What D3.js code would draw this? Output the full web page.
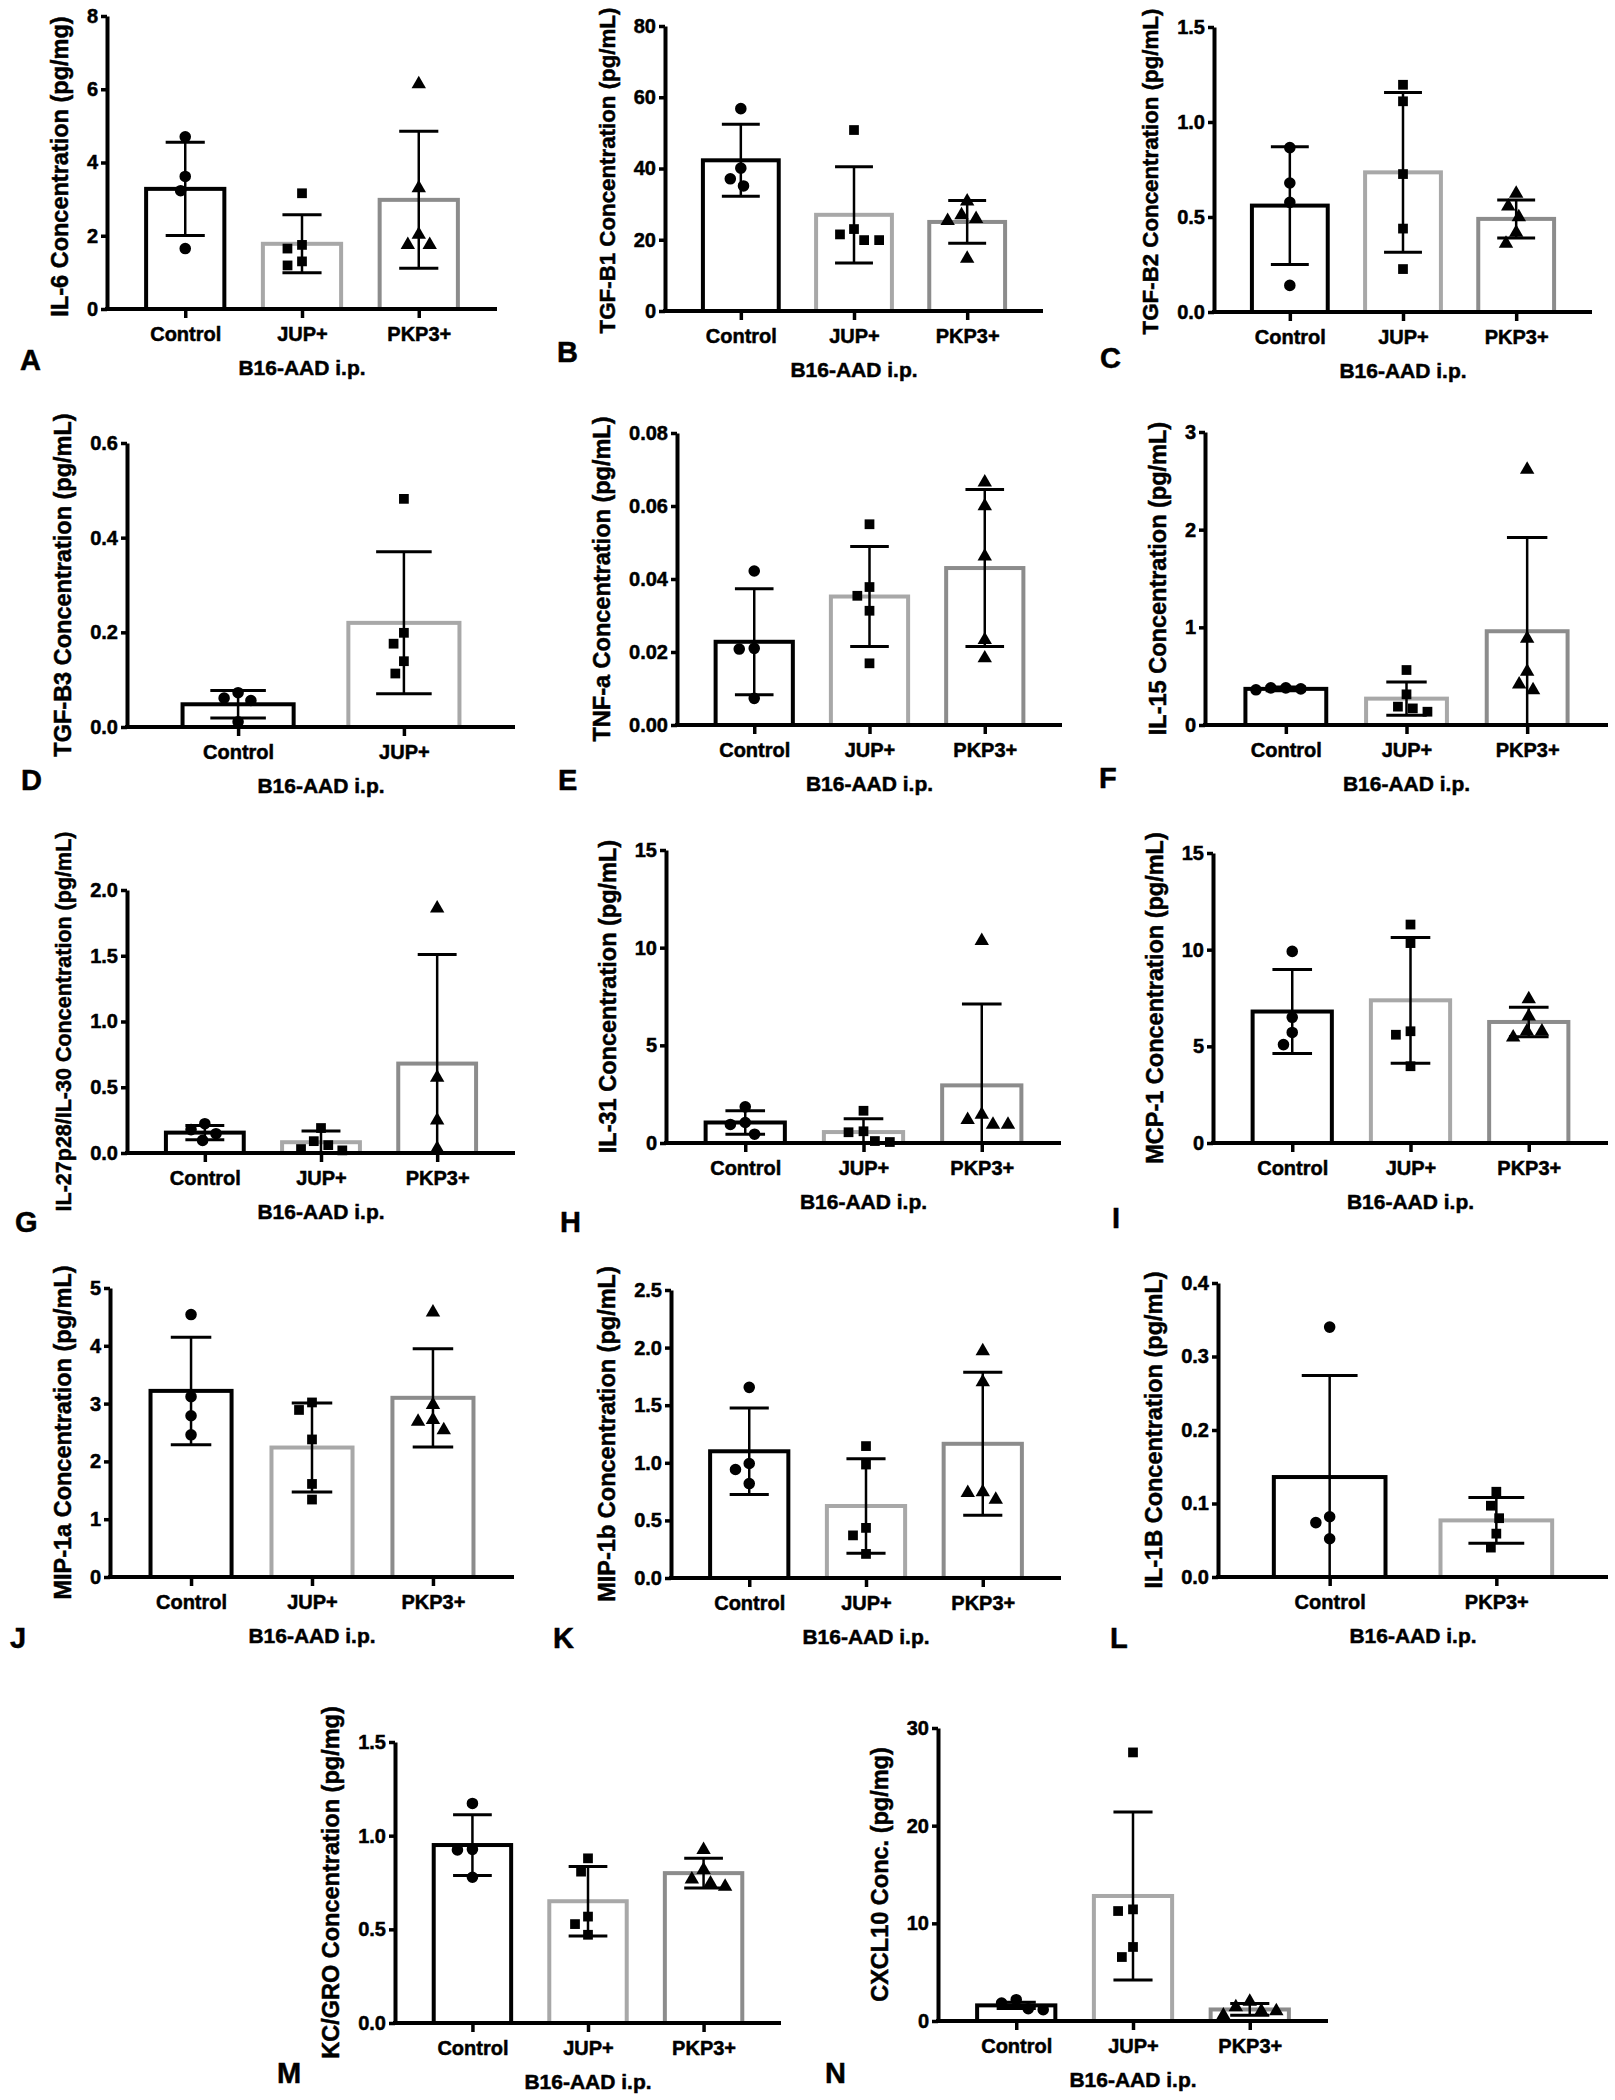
<!DOCTYPE html>
<html>
<head>
<meta charset="utf-8">
<script src="https://cdn.jsdelivr.net/npm/d3@7"></script>
<style>
  body { margin: 0; background: #ffffff; }
  svg text { font-family: "Liberation Sans", Arial, sans-serif; font-weight: bold; fill: #000; stroke: #000; stroke-width: 0.5px; }
  .domain { stroke: #000; stroke-width: 4px; }
  .tick line { stroke: #000; stroke-width: 3.5px; }
</style>
</head>
<body>
<div id="chart"></div>
<script>
const width = 1615;
const height = 2100;

// groups
const groups3 = ["Control", "JUP+", "PKP3+"];
const groupsD = ["Control", "JUP+"];
const groupsL = ["Control", "PKP3+"];

// A - IL-6
const il6Mean = [3.28, 1.78, 2.98];
const il6Sd = [1.27, 0.79, 1.87];
const il6Pts = [[4.70, 3.62, 3.23, 1.65], [3.16, 1.65, 1.75, 1.19, 1.30], [6.14, 3.30, 2.03, 1.75, 1.75]];
const il6Ticks = [0, 2, 4, 6, 8];

// B - TGF-B1
const tgfb1Mean = [42.3, 27.0, 25.0];
const tgfb1Sd = [10.1, 13.5, 6.0];
const tgfb1Pts = [[56.8, 40.1, 37.1, 35.1], [50.8, 21.5, 19.9, 19.9, 23.0], [30.8, 25.9, 26.9, 25.3, 14.7]];
const tgfb1Ticks = [0, 20, 40, 60, 80];

// C - TGF-B2
const tgfb2Mean = [0.56, 0.735, 0.49];
const tgfb2Sd = [0.31, 0.42, 0.10];
const tgfb2Pts = [[0.865, 0.679, 0.577, 0.14], [1.196, 1.109, 0.726, 0.439, 0.226], [0.623, 0.556, 0.50, 0.418, 0.36]];
const tgfb2Ticks = [0, 0.5, 1.0, 1.5];

// D - TGF-B3
const tgfb3Mean = [0.048, 0.22];
const tgfb3Sd = [0.029, 0.15];
const tgfb3Pts = [[0.0725, 0.061, 0.056, 0.011], [0.482, 0.199, 0.176, 0.139, 0.113]];
const tgfb3Ticks = [0, 0.2, 0.4, 0.6];

// E - TNF-a
const tnfMean = [0.0228, 0.0352, 0.043];
const tnfSd = [0.0145, 0.0137, 0.0215];
const tnfPts = [[0.0422, 0.021, 0.0208, 0.0073], [0.055, 0.0378, 0.0354, 0.0313, 0.0169], [0.0665, 0.060, 0.0462, 0.0233, 0.0183]];
const tnfTicks = [0, 0.02, 0.04, 0.06, 0.08];

// F - IL-15
const il15Mean = [0.37, 0.27, 0.96];
const il15Sd = [0.02, 0.17, 0.96];
const il15Pts = [[0.38, 0.37, 0.36, 0.38], [0.563, 0.314, 0.188, 0.136, 0.17], [2.615, 0.886, 0.546, 0.416, 0.358]];
const il15Ticks = [0, 1, 2, 3];

// G - IL-27p28/IL-30
const il27Mean = [0.155, 0.082, 0.68];
const il27Sd = [0.055, 0.085, 0.83];
const il27Pts = [[0.223, 0.178, 0.147, 0.096], [0.19, 0.09, 0.06, 0.03, 0.02], [1.86, 0.574, 0.249, 0.033]];
const il27Ticks = [0, 0.5, 1.0, 1.5, 2.0];

// H - IL-31
const il31Mean = [1.05, 0.56, 2.95];
const il31Sd = [0.6, 0.68, 4.17];
const il31Pts = [[1.85, 1.05, 0.95, 0.45], [1.65, 0.6, 0.55, 0.05, 0.1], [10.35, 1.45, 1.19, 0.94, 0.94]];
const il31Ticks = [0, 5, 10, 15];

// I - MCP-1
const mcp1Mean = [6.8, 7.38, 6.26];
const mcp1Sd = [2.17, 3.25, 0.76];
const mcp1Pts = [[9.91, 6.5, 5.72, 5.09], [11.3, 10.34, 5.78, 5.6, 3.97], [7.45, 6.55, 5.78, 5.78, 5.47]];
const mcp1Ticks = [0, 5, 10, 15];

// J - MIP-1a
const mip1aMean = [3.22, 2.24, 3.1];
const mip1aSd = [0.93, 0.77, 0.85];
const mip1aPts = [[4.54, 3.12, 2.79, 2.46], [3.02, 2.89, 2.38, 1.61, 1.34], [4.58, 2.98, 2.72, 2.69, 2.54]];
const mip1aTicks = [0, 1, 2, 3, 4, 5];

// K - MIP-1b
const mip1bMean = [1.10, 0.625, 1.165];
const mip1bSd = [0.375, 0.41, 0.62];
const mip1bPts = [[1.655, 0.994, 0.942, 0.82], [1.145, 0.985, 0.435, 0.37, 0.209], [1.97, 1.70, 0.745, 0.74, 0.68]];
const mip1bTicks = [0, 0.5, 1.0, 1.5, 2.0, 2.5];

// L - IL-1B
const il1bMean = [0.136, 0.077];
const il1bSd = [0.138, 0.031];
const il1bPts = [[0.34, 0.082, 0.074, 0.052], [0.116, 0.097, 0.08, 0.059, 0.04]];
const il1bTicks = [0, 0.1, 0.2, 0.3, 0.4];

// M - KC/GRO
const kcMean = [0.95, 0.65, 0.80];
const kcSd = [0.162, 0.186, 0.08];
const kcPts = [[1.172, 0.927, 0.924, 0.778], [0.879, 0.808, 0.568, 0.528, 0.471], [0.924, 0.817, 0.767, 0.746, 0.728]];
const kcTicks = [0, 0.5, 1.0, 1.5];

// N - CXCL10
const cxclMean = [1.6, 12.8, 1.18];
const cxclSd = [0.33, 8.6, 0.6];
const cxclPts = [[2.18, 1.84, 1.26, 1.16], [27.5, 11.43, 11.26, 7.58, 6.55], [2.0, 1.43, 1.02, 1.02, 0.58]];
const cxclTicks = [0, 10, 20, 30];

const xTitle = "B16-AAD i.p.";

const fInt = d3.format("d");
const f1 = d3.format(".1f");
const f2 = d3.format(".2f");

const panels = [
    { id: "A", label: "IL-6 Concentration (pg/mg)", groups: groups3, means: il6Mean, sds: il6Sd, pts: il6Pts, ticks: il6Ticks, fmt: fInt },
    { id: "B", label: "TGF-B1 Concentration (pg/mL)", groups: groups3, means: tgfb1Mean, sds: tgfb1Sd, pts: tgfb1Pts, ticks: tgfb1Ticks, fmt: fInt },
    { id: "C", label: "TGF-B2 Concentration (pg/mL)", groups: groups3, means: tgfb2Mean, sds: tgfb2Sd, pts: tgfb2Pts, ticks: tgfb2Ticks, fmt: f1 },
    { id: "D", label: "TGF-B3 Concentration (pg/mL)", groups: groupsD, means: tgfb3Mean, sds: tgfb3Sd, pts: tgfb3Pts, ticks: tgfb3Ticks, fmt: f1 },
    { id: "E", label: "TNF-a Concentration (pg/mL)", groups: groups3, means: tnfMean, sds: tnfSd, pts: tnfPts, ticks: tnfTicks, fmt: f2 },
    { id: "F", label: "IL-15 Concentration (pg/mL)", groups: groups3, means: il15Mean, sds: il15Sd, pts: il15Pts, ticks: il15Ticks, fmt: fInt },
    { id: "G", label: "IL-27p28/IL-30 Concentration (pg/mL)", groups: groups3, means: il27Mean, sds: il27Sd, pts: il27Pts, ticks: il27Ticks, fmt: f1 },
    { id: "H", label: "IL-31 Concentration (pg/mL)", groups: groups3, means: il31Mean, sds: il31Sd, pts: il31Pts, ticks: il31Ticks, fmt: fInt },
    { id: "I", label: "MCP-1 Concentration (pg/mL)", groups: groups3, means: mcp1Mean, sds: mcp1Sd, pts: mcp1Pts, ticks: mcp1Ticks, fmt: fInt },
    { id: "J", label: "MIP-1a Concentration (pg/mL)", groups: groups3, means: mip1aMean, sds: mip1aSd, pts: mip1aPts, ticks: mip1aTicks, fmt: fInt },
    { id: "K", label: "MIP-1b Concentration (pg/mL)", groups: groups3, means: mip1bMean, sds: mip1bSd, pts: mip1bPts, ticks: mip1bTicks, fmt: f1 },
    { id: "L", label: "IL-1B Concentration (pg/mL)", groups: groupsL, means: il1bMean, sds: il1bSd, pts: il1bPts, ticks: il1bTicks, fmt: f1 },
    { id: "M", label: "KC/GRO Concentration (pg/mg)", groups: groups3, means: kcMean, sds: kcSd, pts: kcPts, ticks: kcTicks, fmt: f1 },
    { id: "N", label: "CXCL10 Conc. (pg/mg)", groups: groups3, means: cxclMean, sds: cxclSd, pts: cxclPts, ticks: cxclTicks, fmt: fInt }
];

// where each panel sits on the page (axis frame + panel letter)
const layout = {
    A: { x0: 107, x1: 497, top: 16, zero: 309, lx: 20, ly: 370, labelDy: 4 },
    B: { x0: 665, x1: 1043, top: 26, zero: 311, lx: 557, ly: 362, labelSize: 22.3, labelDy: 2 },
    C: { x0: 1214, x1: 1592, top: 27, zero: 312, lx: 1100, ly: 368, labelSize: 22.3, labelDy: 2 },
    D: { x0: 127, x1: 515, top: 443, zero: 727, lx: 21, ly: 790 },
    E: { x0: 677, x1: 1062, top: 433, zero: 725, lx: 558, ly: 790 },
    F: { x0: 1205, x1: 1608, top: 432, zero: 725, lx: 1099, ly: 788 },
    G: { x0: 127, x1: 515, top: 890, zero: 1153, lx: 15, ly: 1232, labelSize: 21.5 },
    H: { x0: 666, x1: 1061, top: 850, zero: 1143, lx: 560, ly: 1232 },
    I: { x0: 1213, x1: 1608, top: 853, zero: 1143, lx: 1112, ly: 1228 },
    J: { x0: 110, x1: 514, top: 1288, zero: 1577, lx: 10, ly: 1648 },
    K: { x0: 671, x1: 1061, top: 1290, zero: 1578, lx: 553, ly: 1648 },
    L: { x0: 1218, x1: 1608, top: 1283, zero: 1577, lx: 1110, ly: 1648 },
    M: { x0: 395, x1: 781, top: 1742, zero: 2023, lx: 277, ly: 2083 },
    N: { x0: 938, x1: 1328, top: 1728, zero: 2021, lx: 825, ly: 2083 }
};

const barColors = ["#000000", "#a8a8a8", "#8c8c8c"];
const symbolTypes = [d3.symbolCircle, d3.symbolSquare, d3.symbolTriangle];
const symbolSizes = [105, 95, 90];

const svg = d3.select("#chart")
    .append("svg")
    .attr("width", width)
    .attr("height", height)
    .attr("viewBox", [0, 0, width, height]);

// simple beeswarm: each point goes to the x offset nearest the centre that does not overlap
function swarm(values, y, D) {
    const order = values.map((v, i) => i).sort((a, b) => values[b] - values[a]);
    const placed = [];
    const xs = new Array(values.length).fill(0);
    for (const i of order) {
        const py = y(values[i]);
        const cands = [0];
        placed.forEach(q => {
            const dy = Math.abs(py - q.y);
            if (dy < D) {
                const dx = Math.sqrt(D * D - dy * dy);
                cands.push(q.x - dx, q.x + dx);
            }
        });
        cands.sort((a, b) => Math.abs(a) - Math.abs(b) || a - b);
        let best = 0;
        for (const c of cands) {
            if (placed.every(q => (c - q.x) ** 2 + (py - q.y) ** 2 >= D * D - 0.01)) { best = c; break; }
        }
        placed.push({ x: best, y: py });
        xs[i] = best;
    }
    return xs;
}

function drawPanel(p) {
    const L = layout[p.id];
    const g = svg.append("g");

    const x = d3.scalePoint().domain(p.groups).range([L.x0, L.x1]).padding(0.67);
    const y = d3.scaleLinear().domain([0, p.ticks[p.ticks.length - 1]]).range([L.zero, L.top]);
    const bw = x.step() * 0.67;
    const cap = bw * 0.5;

    // bars
    g.selectAll("rect.bar")
        .data(p.groups)
        .join("rect")
        .attr("class", "bar")
        .attr("x", d => x(d) - bw / 2)
        .attr("y", (d, i) => y(p.means[i]))
        .attr("width", bw)
        .attr("height", (d, i) => y(0) - y(p.means[i]))
        .attr("fill", "white")
        .attr("stroke", (d, i) => barColors[i])
        .attr("stroke-width", 4);

    // error bars (mean +/- SD, clipped at zero)
    p.groups.forEach((grp, i) => {
        const cx = x(grp);
        const hi = p.means[i] + p.sds[i];
        const lo = Math.max(0, p.means[i] - p.sds[i]);
        g.append("line")
            .attr("x1", cx).attr("x2", cx)
            .attr("y1", y(lo)).attr("y2", y(hi))
            .attr("stroke", "#000").attr("stroke-width", 2.5);
        g.append("line")
            .attr("x1", cx - cap / 2).attr("x2", cx + cap / 2)
            .attr("y1", y(hi)).attr("y2", y(hi))
            .attr("stroke", "#000").attr("stroke-width", 3);
        if (p.means[i] - p.sds[i] > 0) {
            g.append("line")
                .attr("x1", cx - cap / 2).attr("x2", cx + cap / 2)
                .attr("y1", y(lo)).attr("y2", y(lo))
                .attr("stroke", "#000").attr("stroke-width", 3);
        }
    });

    // points
    p.groups.forEach((grp, i) => {
        const offs = swarm(p.pts[i], y, 15);
        const sym = d3.symbol().type(symbolTypes[i]).size(symbolSizes[i]);
        g.selectAll(null)
            .data(p.pts[i])
            .join("path")
            .attr("d", sym)
            .attr("transform", (d, j) => `translate(${x(grp) + offs[j]},${y(d)})`)
            .attr("fill", "#000");
    });

    // axes
    const ya = g.append("g")
        .attr("transform", `translate(${L.x0},0)`)
        .call(d3.axisLeft(y).tickValues(p.ticks).tickFormat(p.fmt).tickSize(6).tickPadding(3).tickSizeOuter(0));
    ya.selectAll("text").attr("font-size", 20);

    const xa = g.append("g")
        .attr("transform", `translate(0,${L.zero})`)
        .call(d3.axisBottom(x).tickSize(9).tickPadding(9).tickSizeOuter(0));
    xa.selectAll("text").attr("font-size", 20);
    xa.select(".domain").attr("d", `M${L.x0 - 2},0H${L.x1}`);

    // y label
    const bb = ya.node().getBBox();
    const tickLeft = L.x0 + bb.x;
    g.append("text")
        .attr("transform", `translate(${tickLeft - 19},${(L.top + L.zero) / 2 + (L.labelDy || 0)}) rotate(-90)`)
        .attr("text-anchor", "middle")
        .attr("font-size", L.labelSize || 23.5)
        .text(p.label);

    // x title
    g.append("text")
        .attr("x", (L.x0 + L.x1) / 2)
        .attr("y", L.zero + 66)
        .attr("text-anchor", "middle")
        .attr("font-size", 21)
        .text(xTitle);

    // panel letter
    g.append("text")
        .attr("x", L.lx)
        .attr("y", L.ly)
        .attr("font-size", 29)
        .text(p.id);
}

panels.forEach(drawPanel);
</script>
</body>
</html>
